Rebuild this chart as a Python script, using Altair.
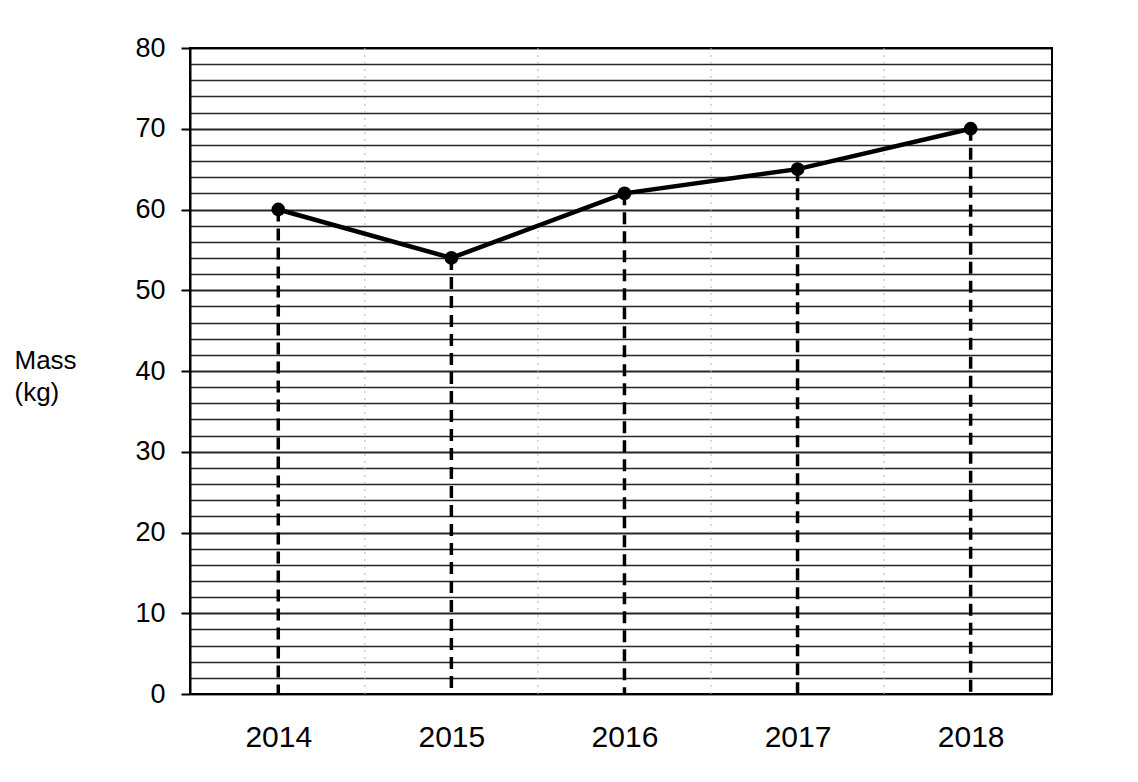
import altair as alt
import pandas as pd

# ---- data ----
years = [2014, 2015, 2016, 2017, 2018]
mass = [60, 54, 62, 65, 70]
half_years = [2014.5, 2015.5, 2016.5, 2017.5]   # faint vertical guide lines
y_grid = list(range(0, 81, 2))                    # graph-paper rows (every 2 kg)

df = pd.DataFrame({"year": years, "mass": mass, "base": [0] * len(years)})
vdf = pd.DataFrame({"year": half_years})

FONT = "Liberation Sans"
x_scale = alt.Scale(domain=[2013.49, 2018.47], nice=False, zero=False)
y_scale = alt.Scale(domain=[0, 80], nice=False, zero=True)

x_axis = alt.Axis(
    values=years, format="d", title=None, grid=False, ticks=False, domain=False,
    labelFontSize=30, labelPadding=28, labelColor="black", labelFont=FONT,
    tickCount=10,
)
y_axis = alt.Axis(
    values=y_grid, tickCount=60, labelOverlap=False,
    labelExpr="datum.value % 10 === 0 ? datum.label : ''",
    title=["Mass", "(kg)"], titleAngle=0, titleAlign="left", titleBaseline="alphabetic",
    titleX=-176, titleY=320, titleFontSize=26, titleFontWeight="normal",
    titleFont=FONT, titleColor="black", titleLineHeight=32,
    labelFontSize=27, labelFont=FONT, labelColor="black", labelPadding=16,
    tickSize={"condition": {"test": "datum.value % 10 === 0", "value": 9}, "value": 0},
    tickColor="black", tickWidth=2,
    domain=True, domainColor="black", domainWidth=2,
    grid=True, gridColor="black",
    gridWidth={"condition": {"test": "datum.value % 10 === 0", "value": 2.2}, "value": 1.4},
    gridOpacity=0.85,
)

guides = alt.Chart(vdf).mark_rule(color="#b5b5b5", strokeDash=[2, 5], strokeWidth=1).encode(
    x=alt.X("year:Q", scale=x_scale, axis=x_axis),
)

drops = alt.Chart(df).mark_rule(color="black", strokeDash=[12, 7], strokeWidth=3.5).encode(
    x=alt.X("year:Q", scale=x_scale),
    y=alt.Y("mass:Q", scale=y_scale, axis=y_axis),
    y2=alt.Y2("base:Q"),
)

line = alt.Chart(df).mark_line(color="black", strokeWidth=4.5).encode(
    x=alt.X("year:Q", scale=x_scale),
    y=alt.Y("mass:Q", scale=y_scale),
)

points = alt.Chart(df).mark_circle(color="black", size=190, opacity=1).encode(
    x=alt.X("year:Q", scale=x_scale),
    y=alt.Y("mass:Q", scale=y_scale),
)

chart = alt.layer(guides, drops, line, points).properties(
    width=862, height=646,
    autosize=alt.AutoSizeParams(type="none"),
    padding={"left": 182, "top": 40, "right": 78, "bottom": 80},
    background="white",
).configure_view(stroke="black", strokeWidth=2)

chart.save("out.html", embed_options={"renderer": "svg", "actions": False})
